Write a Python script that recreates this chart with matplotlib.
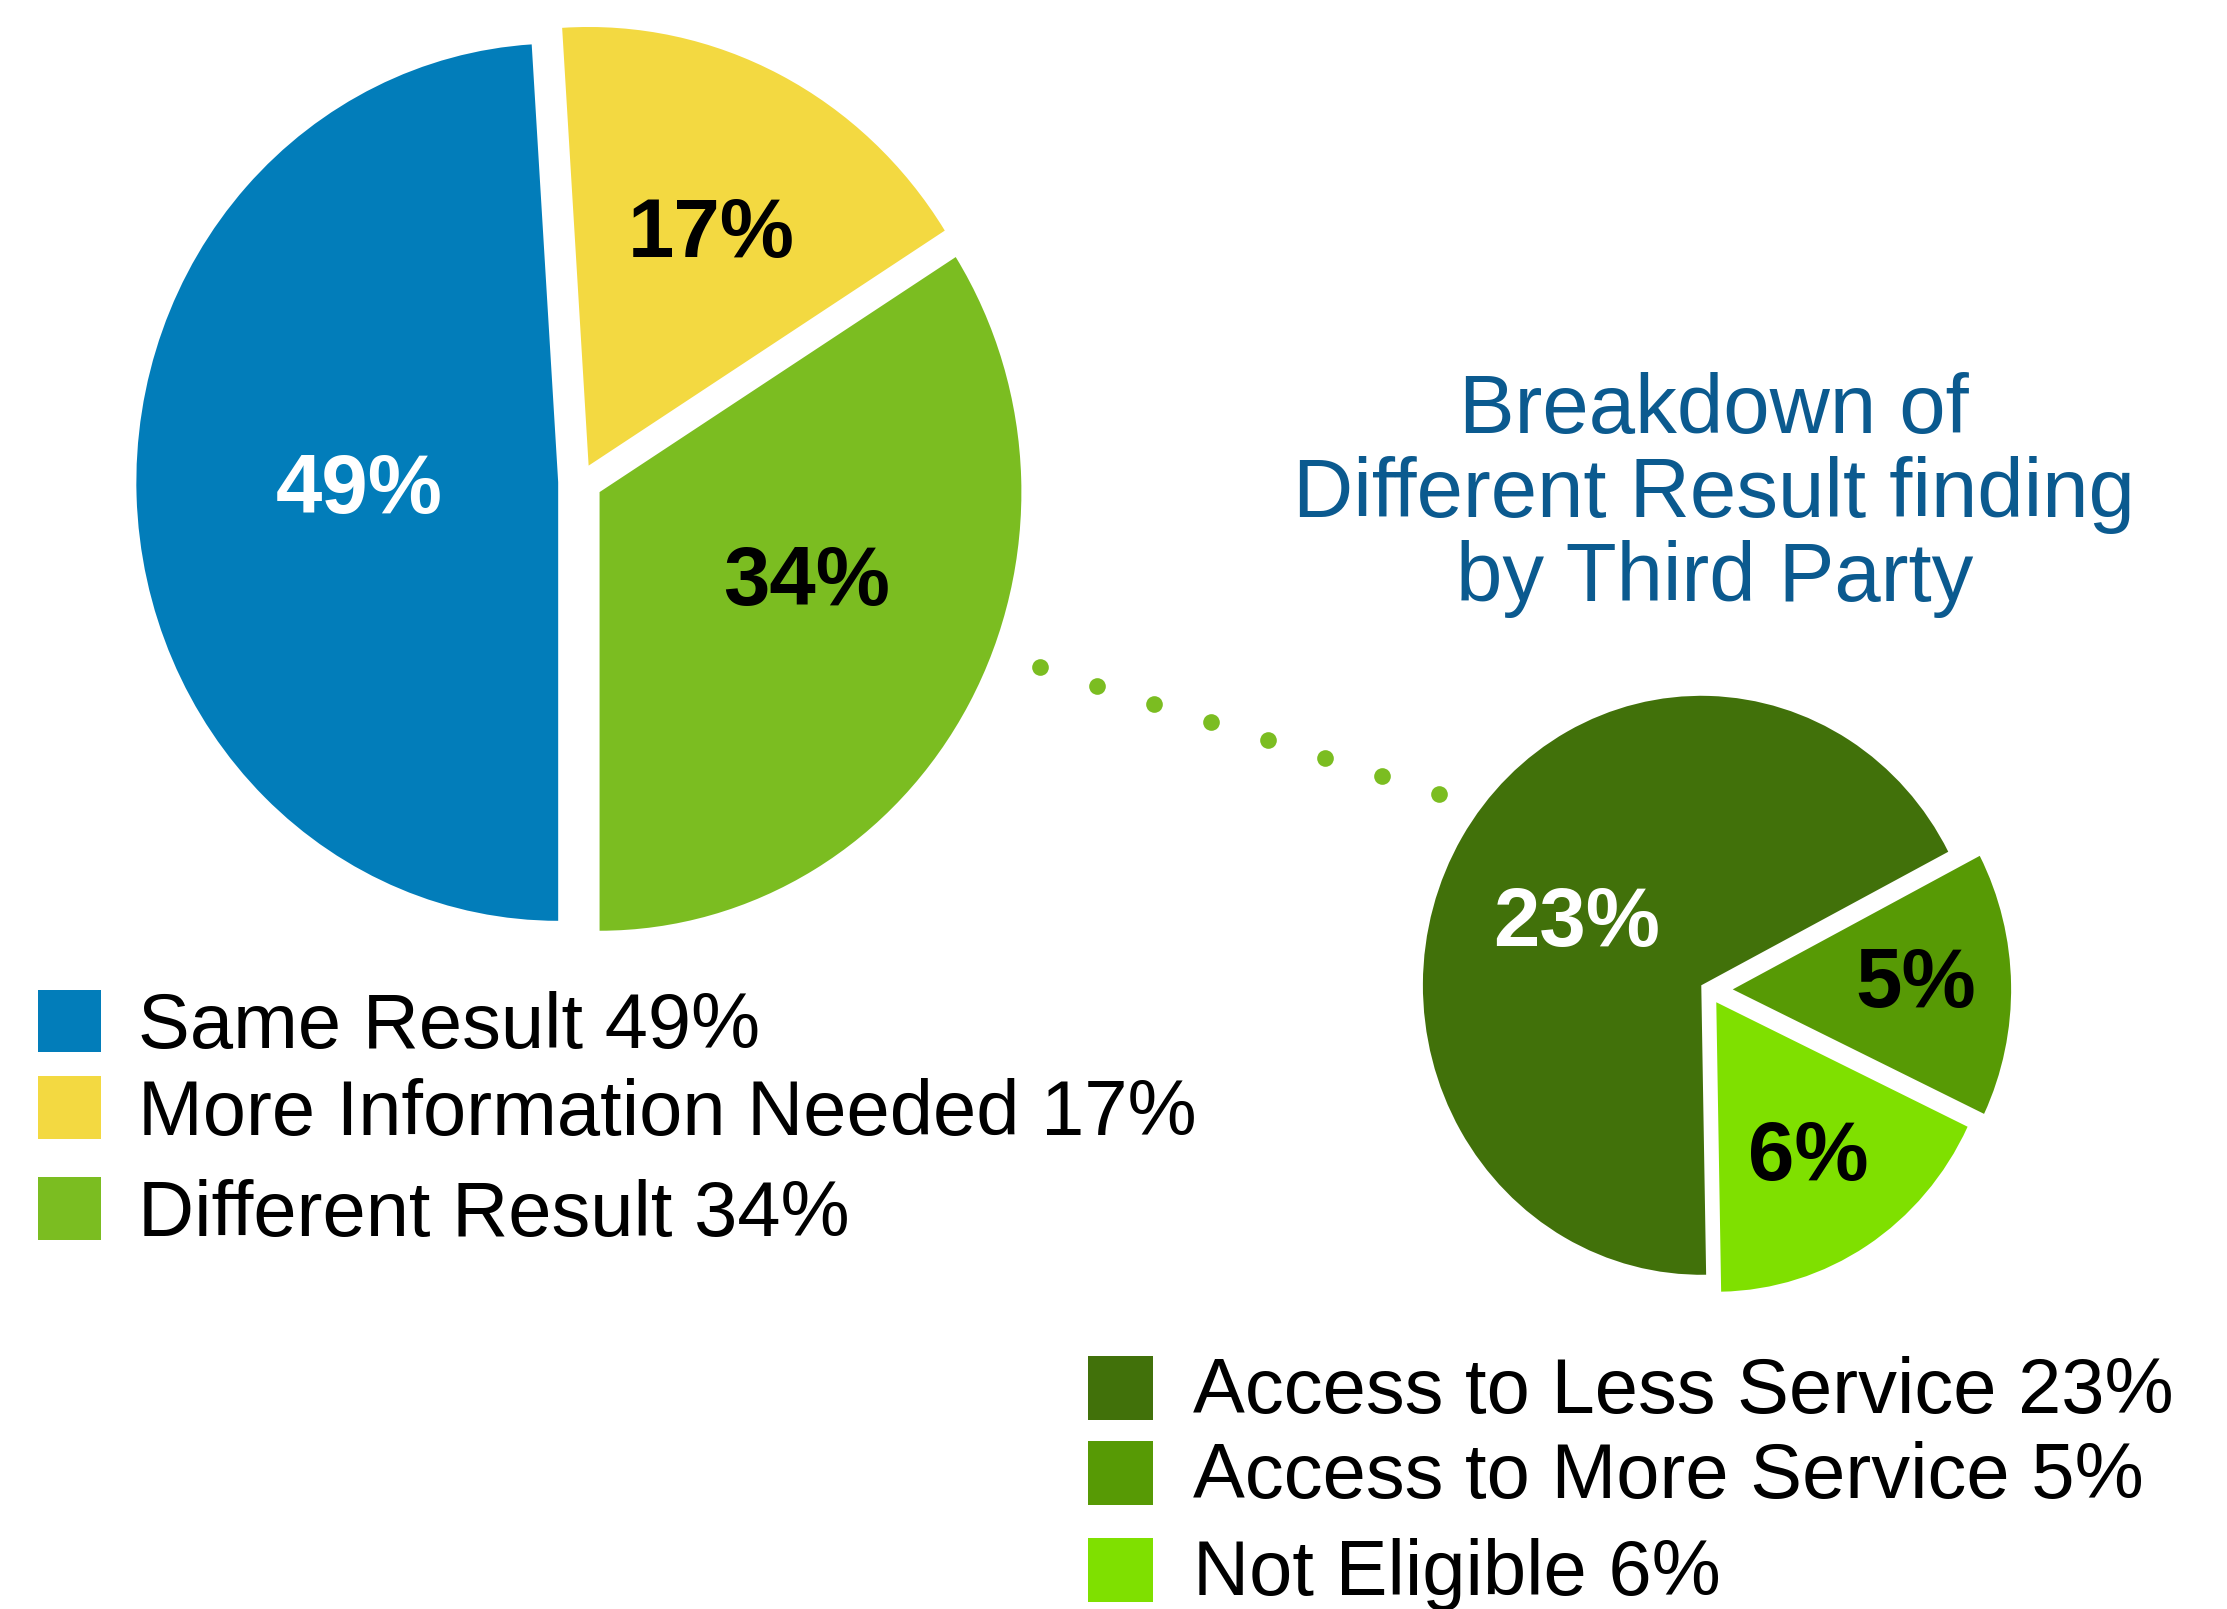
import numpy as np
import matplotlib.pyplot as plt
from matplotlib.patches import Rectangle

plt.rcParams['font.family'] = ['Liberation Sans', 'DejaVu Sans']

# main pie
main_labels = ["Same Result", "More Information Needed", "Different Result"]
main_values = [49, 17, 34]
main_colors = ["#027DBA", "#F3D941", "#7BBD21"]
main_text_colors = ["white", "black", "black"]

# breakdown of the "Different Result" slice
sub_labels = ["Access to Less Service", "Access to More Service", "Not Eligible"]
sub_values = [23, 5, 6]
sub_colors = ["#41710A", "#579A05", "#7FE000"]
sub_text_colors = ["white", "black", "black"]

title_lines = ["Breakdown of", "Different Result finding", "by Third Party"]

# layout was measured on a 1568x1133 view of the picture
W, H = 1568, 1133
SY = 1.04  # pies are a bit taller than wide


def P(x, y):
    return x, (H - y) / SY


fig = plt.figure(figsize=(22.27, 16.09), dpi=100)
ax = fig.add_axes([0, 0, 1, 1])

# big pie, clockwise from 6 o'clock
# (explode is in data units here, not a fraction of the radius)
ax.pie(main_values, colors=main_colors, center=P(409, 339), radius=297,
       startangle=270, counterclock=False,
       explode=[16, 12, 15], wedgeprops=dict(linewidth=0))

# small pie
ax.pie(sub_values, colors=sub_colors, center=P(1203, 697), radius=196,
       startangle=271, counterclock=False,
       explode=[6, 17, 10], wedgeprops=dict(linewidth=0))

ax.set_aspect('auto')
ax.set_xlim(0, W)
ax.set_ylim(0, H / SY)
ax.axis('off')

# percent labels
main_pos = [(253, 361), (501, 181), (568, 426)]
for v, (x, y), c in zip(main_values, main_pos, main_text_colors):
    ax.text(*P(x, y), f"{v}%", color=c, fontsize=60, fontweight='bold',
            ha='center', va='baseline')

sub_pos = [(1110, 666), (1349, 709), (1273, 831)]
for v, (x, y), c in zip(sub_values, sub_pos, sub_text_colors):
    ax.text(*P(x, y), f"{v}%", color=c, fontsize=60, fontweight='bold',
            ha='center', va='baseline')

# dotted connector
dx = np.linspace(732, 1013, 8)
dy = np.linspace(470, 559, 8)
ax.plot(dx, (H - dy) / SY, linestyle='none', marker='o', markersize=12,
        color="#7BBD21", markeredgewidth=0)

# title
for line, y in zip(title_lines, [305, 364, 423]):
    ax.text(*P(1207, y), line, color="#0B5A8F", fontsize=60,
            ha='center', va='baseline')

# legends
for lab, v, c, top in zip(main_labels, main_values, main_colors, [697, 758, 829]):
    ax.add_patch(Rectangle(P(27, top + 44), 44, 44 / SY, color=c, lw=0))
    ax.text(*P(97, top + 41), f"{lab} {v}%", fontsize=56, va='baseline')

for lab, v, c, top in zip(sub_labels, sub_values, sub_colors, [955, 1015, 1083]):
    ax.add_patch(Rectangle(P(766, top + 45), 46, 45 / SY, color=c, lw=0))
    ax.text(*P(840, top + 40), f"{lab} {v}%", fontsize=56, va='baseline')

fig.savefig("out.png", dpi=100)
